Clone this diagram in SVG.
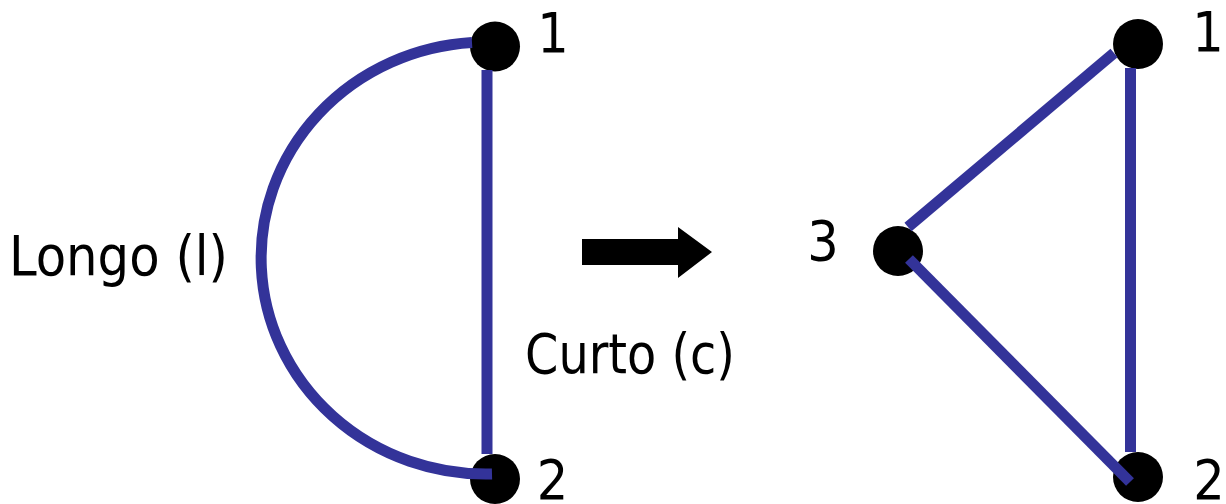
<svg xmlns="http://www.w3.org/2000/svg" width="1226" height="504" viewBox="0 0 1226 504">
<style>
.edge{stroke:#333399;stroke-width:11;fill:none;stroke-linecap:butt}
.node{fill:#000}
.lbl{font-family:"DejaVu Sans Condensed","DejaVu Sans",sans-serif;font-size:55px;fill:#000}
.num{font-family:"DejaVu Sans Condensed","DejaVu Sans",sans-serif;font-size:55px;fill:#000;text-anchor:middle}
</style>
<rect width="1226" height="504" fill="#fff"/>
<g id="nodes">
<g id="n1a"><circle class="node" cx="495" cy="46.5" r="25"/><text class="num" x="553" y="52">1</text></g>
<g id="n2a"><circle class="node" cx="495" cy="479" r="25"/><text class="num" x="552.5" y="499">2</text></g>
<g id="n3b"><circle class="node" cx="898" cy="251" r="25"/><text class="num" x="823" y="260">3</text></g>
<g id="n1b"><circle class="node" cx="1138" cy="44" r="25"/><text class="num" x="1208" y="51">1</text></g>
<g id="n2b"><circle class="node" cx="1138" cy="477" r="25"/><text class="num" x="1209" y="499">2</text></g>
</g>
<g id="connectors">
<path class="edge" d="M 472 42.5 A 225 216 0 0 0 492 474"/>
<line class="edge" x1="487" y1="70" x2="487" y2="454"/>
<line class="edge" x1="1130.5" y1="68" x2="1130.5" y2="452"/>
<line class="edge" x1="908" y1="227" x2="1114" y2="53"/>
<line class="edge" x1="909" y1="259" x2="1130" y2="482"/>
</g>
<g id="arrow">
<polygon points="582,239 678,239 678,227 712,252 678,278 678,265 582,265" fill="#000"/>
</g>
<g id="labels">
<text class="lbl" x="9" y="275" textLength="219" lengthAdjust="spacingAndGlyphs">Longo (l)</text>
<text class="lbl" x="525" y="373" textLength="210" lengthAdjust="spacingAndGlyphs">Curto (c)</text>
</g>
</svg>
